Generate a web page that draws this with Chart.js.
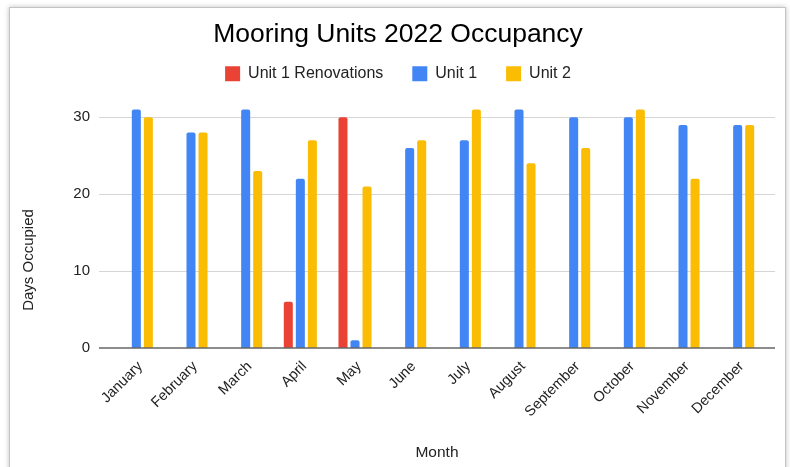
<!DOCTYPE html>
<html>
<head>
<meta charset="utf-8">
<title>Mooring Units 2022 Occupancy</title>
<script src="https://cdn.jsdelivr.net/npm/chart.js@4.4.0/dist/chart.umd.min.js"></script>
<style>
  html, body { margin: 0; padding: 0; background: #fff; }
  body { width: 790px; height: 467px; position: relative; overflow: hidden; }
  #frame { position: absolute; left: 9px; top: 7px; width: 775px; height: 480px; border: 1px solid #c4c4c4; box-shadow: 0 0 5px rgba(0,0,0,0.25); background: #fff; }
  #wrap { position: absolute; left: 0; top: 0; width: 790px; height: 467px; }
</style>
</head>
<body>
<div id="frame"></div>
<div id="wrap"><canvas id="occupancy-chart"></canvas></div>
<script>
// Données
const months = ['January', 'February', 'March', 'April', 'May', 'June',
                'July', 'August', 'September', 'October', 'November', 'December'];
const renovations = [null, null, null, 6, 30, null, null, null, null, null, null, null];
const unit1 = [31, 28, 31, 22, 1, 26, 27, 31, 30, 30, 29, 29];
const unit2 = [30, 28, 23, 27, 21, 27, 31, 24, 26, 31, 22, 29];
const yTicks = [0, 10, 20, 30];

const FONT = '"Liberation Sans", Arial, sans-serif';

// Lignes de grille un peu plus larges que la zone de tracé (style Google Sheets)
const sheetGrid = {
    id: 'sheetGrid',
    beforeDatasetsDraw(chart) {
        const { ctx, chartArea, scales: { y } } = chart;
        ctx.save();
        ctx.strokeStyle = '#d5d5d5';
        ctx.lineWidth = 1;
        yTicks.filter(v => v !== 0).forEach(v => {
            const py = Math.round(y.getPixelForValue(v)) + 0.5;
            ctx.beginPath();
            ctx.moveTo(chartArea.left - 10, py);
            ctx.lineTo(chartArea.right + 10, py);
            ctx.stroke();
        });
        ctx.restore();
    },
    afterDatasetsDraw(chart) {
        const { ctx, chartArea, scales: { y } } = chart;
        const py = y.getPixelForValue(0);
        ctx.save();
        ctx.strokeStyle = '#666';
        ctx.lineWidth = 1.5;
        ctx.beginPath();
        ctx.moveTo(chartArea.left - 10, py);
        ctx.lineTo(chartArea.right + 10, py);
        ctx.stroke();

        // Titre de l'axe Y
        ctx.translate(29, 260);
        ctx.rotate(-Math.PI / 2);
        ctx.fillStyle = '#222';
        ctx.font = '15px ' + FONT;
        ctx.textAlign = 'center';
        ctx.textBaseline = 'middle';
        ctx.fillText('Days Occupied', 0, 0);
        ctx.restore();
    }
};

const ctx = document.getElementById('occupancy-chart').getContext('2d');
new Chart(ctx, {
    type: 'bar',
    data: {
        labels: months,
        datasets: [
            { label: 'Unit 1 Renovations', data: renovations, backgroundColor: '#EA4335' },
            { label: 'Unit 1', data: unit1, backgroundColor: '#4285F4' },
            { label: 'Unit 2', data: unit2, backgroundColor: '#FBBC04' }
        ]
    },
    options: {
        responsive: true,
        maintainAspectRatio: false,
        animation: false,
        layout: { padding: { left: 31, right: 25, top: 0, bottom: 0 } },
        datasets: {
            bar: {
                categoryPercentage: 0.66,
                barPercentage: 0.75,
                borderRadius: 2,
                borderSkipped: 'start'
            }
        },
        scales: {
            x: {
                grid: { display: false, drawTicks: false },
                border: { display: false },
                ticks: {
                    minRotation: 45,
                    maxRotation: 45,
                    padding: 10,
                    labelOffset: 4,
                    color: '#222',
                    font: { family: FONT, size: 14.5 }
                },
                title: {
                    display: true,
                    text: 'Month',
                    color: '#222',
                    padding: { top: 0, bottom: 5 },
                    font: { family: FONT, size: 15.5 }
                },
                afterFit(scale) { scale.height = 119; }
            },
            y: {
                min: 0,
                max: 33.3,
                grid: { display: false, drawTicks: false },
                border: { display: false },
                afterBuildTicks(axis) {
                    axis.ticks = yTicks.map(v => ({ value: v }));
                },
                ticks: {
                    padding: 19,
                    color: '#222',
                    font: { family: FONT, size: 15 }
                },
                afterFit(scale) { scale.width = 78; }
            }
        },
        plugins: {
            title: {
                display: true,
                text: 'Mooring Units 2022 Occupancy',
                color: '#000',
                padding: { top: 18.5, bottom: -13.5 },
                font: { family: FONT, size: 26.5, weight: 'normal' }
            },
            legend: {
                labels: {
                    boxWidth: 15,
                    boxHeight: 15,
                    padding: 29,
                    color: '#222',
                    font: { family: FONT, size: 16 }
                }
            },
            tooltip: { enabled: false }
        }
    },
    plugins: [sheetGrid]
});
</script>
</body>
</html>
